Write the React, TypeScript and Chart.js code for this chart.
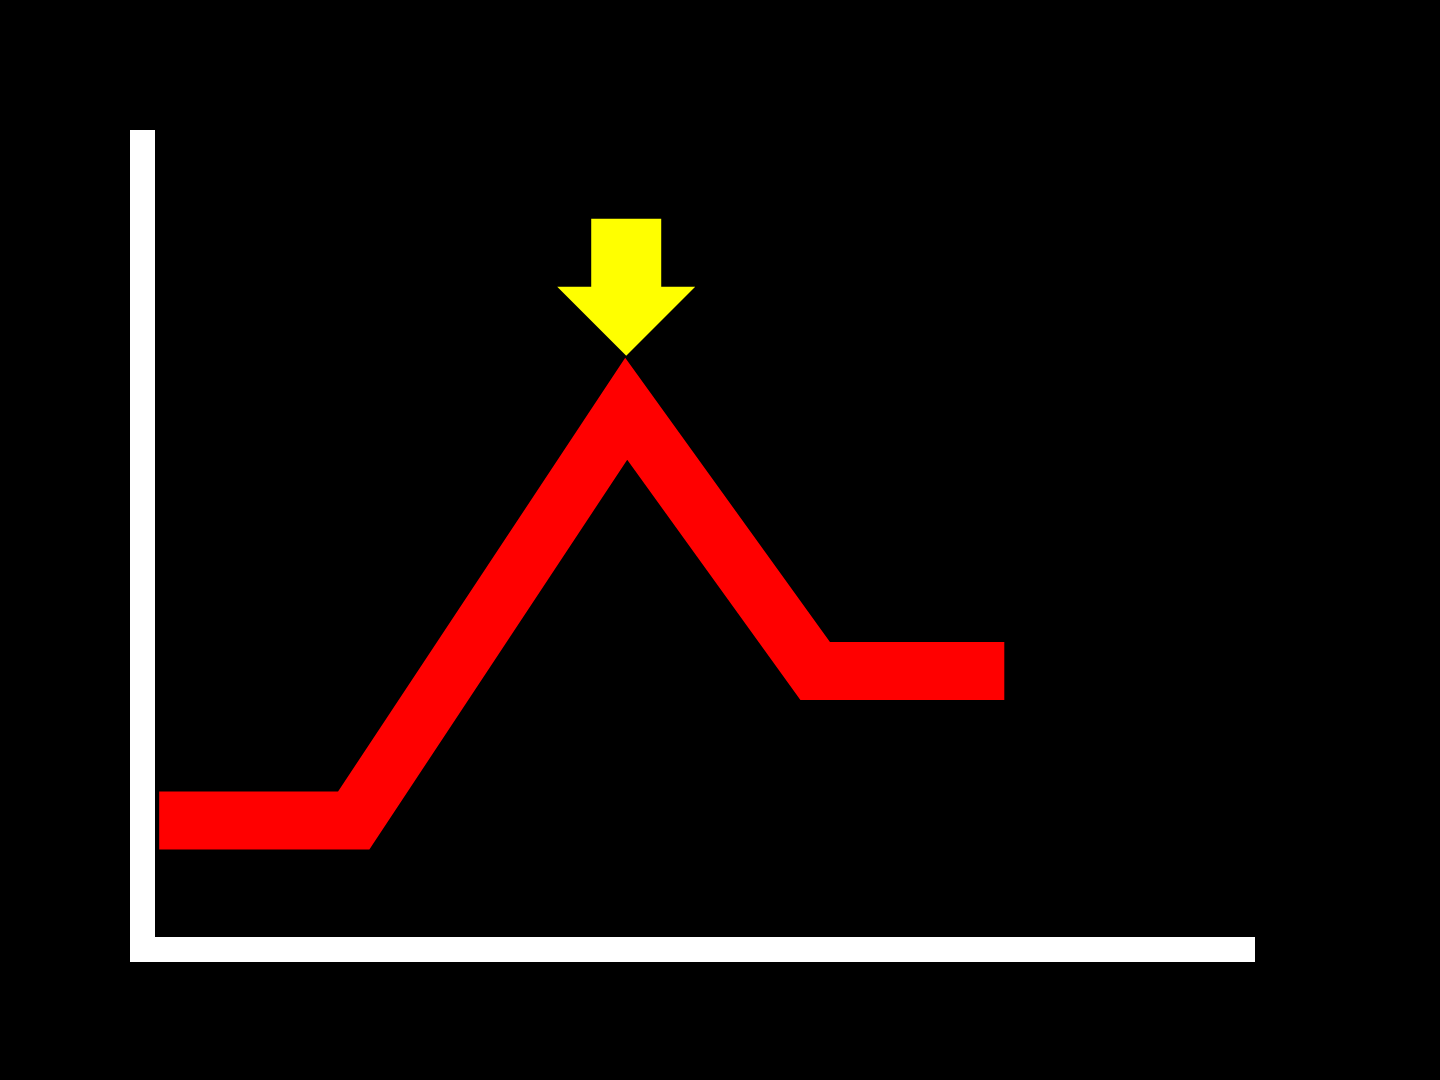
import { Chart, registerables } from 'chart.js'
import { useEffect, useRef } from 'react'

Chart.register(...registerables)

// positions along the (unlabelled) horizontal axis, 0..100
const xValues: number[] = [1.5, 19, 43.5, 60.5, 77.5]
// level of the curve at each position, 0..100
const yValues: number[] = [16, 16, 67, 34.5, 34.5]

const LINE_COLOR = '#ff0000'
const AXIS_COLOR = '#ffffff'
const ARROW_COLOR = '#ffff00'

// arrow sits above the highest point of the line
const peakArrow = {
    id: 'peakArrow',
    afterDatasetsDraw(chart: any) {
        const meta = chart.getDatasetMeta(0)
        const peakIndex = yValues.indexOf(Math.max(...yValues))
        const point = meta.data[peakIndex]
        if (!point) return
        const x = point.x
        const tipY = point.y - 53
        const headHalf = 69
        const headHeight = 69
        const shaftHalf = 35
        const shaftHeight = 68
        const ctx = chart.ctx as CanvasRenderingContext2D
        ctx.save()
        ctx.fillStyle = ARROW_COLOR
        ctx.beginPath()
        ctx.moveTo(x, tipY)
        ctx.lineTo(x - headHalf, tipY - headHeight)
        ctx.lineTo(x - shaftHalf, tipY - headHeight)
        ctx.lineTo(x - shaftHalf, tipY - headHeight - shaftHeight)
        ctx.lineTo(x + shaftHalf, tipY - headHeight - shaftHeight)
        ctx.lineTo(x + shaftHalf, tipY - headHeight)
        ctx.lineTo(x + headHalf, tipY - headHeight)
        ctx.closePath()
        ctx.fill()
        ctx.restore()
    }
}

const App = () => {
    const canvasRef = useRef<HTMLCanvasElement>(null)

    useEffect(() => {
        if (!canvasRef.current) return
        const ctx = canvasRef.current.getContext('2d') as CanvasRenderingContext2D

        const chart = new Chart(ctx, {
            type: 'line',
            data: {
                datasets: [{
                    data: xValues.map((x, i) => ({ x, y: yValues[i] })),
                    borderColor: LINE_COLOR,
                    borderWidth: 58,
                    borderJoinStyle: 'miter',
                    borderCapStyle: 'butt',
                    pointRadius: 0,
                    tension: 0,
                    fill: false
                }]
            },
            options: {
                animation: false,
                responsive: true,
                maintainAspectRatio: false,
                layout: {
                    padding: { left: 142.5, right: 185.5, top: 142.5, bottom: 130.5 }
                },
                scales: {
                    x: {
                        type: 'linear',
                        min: 0,
                        max: 100,
                        ticks: { display: false },
                        grid: { display: false, drawTicks: false },
                        border: { display: true, color: AXIS_COLOR, width: 25 }
                    },
                    y: {
                        type: 'linear',
                        min: 0,
                        max: 100,
                        ticks: { display: false },
                        grid: { display: false, drawTicks: false },
                        border: { display: true, color: AXIS_COLOR, width: 25 }
                    }
                },
                plugins: {
                    legend: { display: false },
                    tooltip: { enabled: false }
                }
            },
            plugins: [peakArrow]
        })

        return () => {
            chart.destroy()
        }
    }, [])

    return (
        <div style={{ position: 'fixed', left: 0, top: 0, width: 1440, height: 1080, background: '#000000' }}>
            <canvas ref={canvasRef}></canvas>
        </div>
    )
}

export default App
